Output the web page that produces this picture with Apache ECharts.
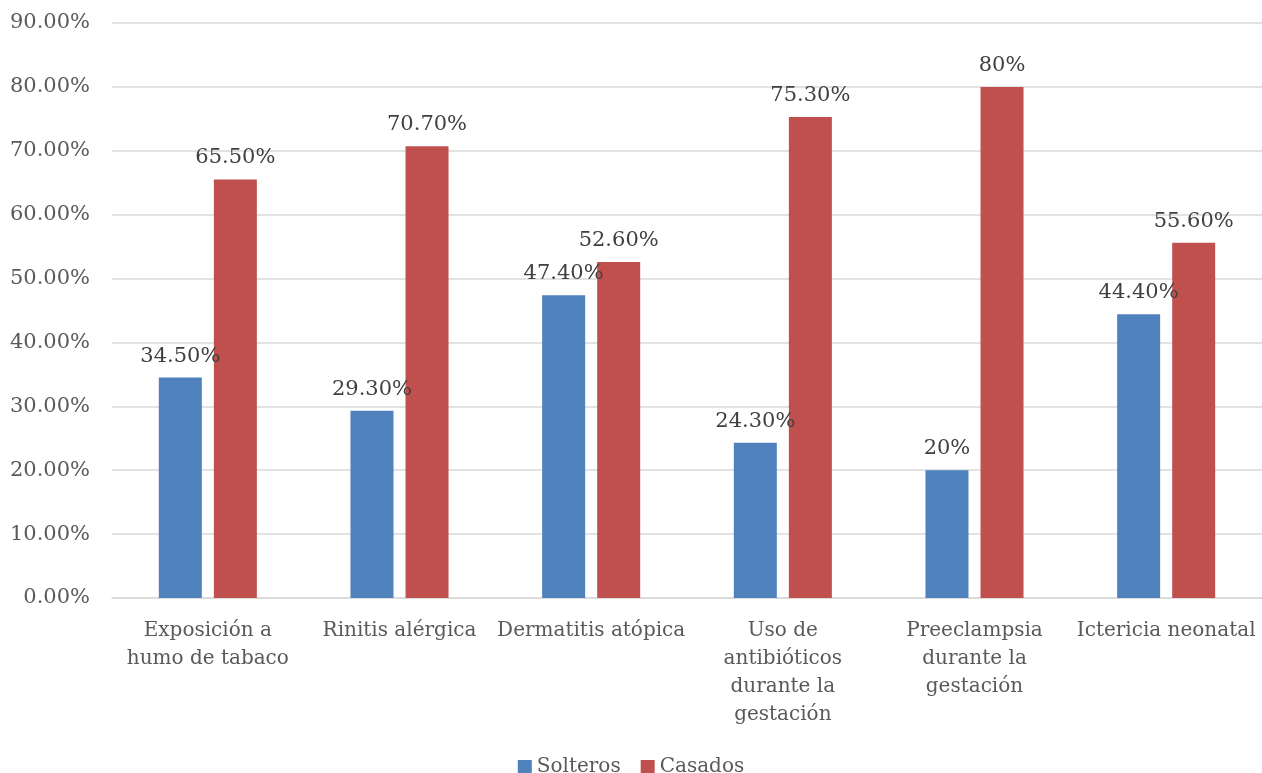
<!DOCTYPE html>
<html><head><meta charset="utf-8">
<script src="https://cdn.jsdelivr.net/npm/echarts@6/dist/echarts.min.js"></script>
<style>html,body{margin:0;padding:0;background:#fff}#c{width:1262px;height:773px}</style>
</head><body><div id="c"></div>
<script>
const categories = ["Exposición a\nhumo de tabaco", "Rinitis alérgica", "Dermatitis atópica", "Uso de\nantibióticos\ndurante la\ngestación", "Preeclampsia\ndurante la\ngestación", "Ictericia neonatal"];
const solteros = [34.5, 29.3, 47.4, 24.3, 20, 44.4];
const casados = [65.5, 70.7, 52.6, 75.3, 80, 55.6];
const solterosLabels = ["34.50%", "29.30%", "47.40%", "24.30%", "20%", "44.40%"];
const casadosLabels = ["65.50%", "70.70%", "52.60%", "75.30%", "80%", "55.60%"];
const FONT = "DejaVu Serif";
const FS = 21;
const chart = echarts.init(document.getElementById('c'));
function lbl(arr){ return {show:true, position:'top', distance:11, fontFamily:FONT, fontSize:FS, color:'#404040', formatter:p=>arr[p.dataIndex]}; }
chart.setOption({
  animation:false,
  textStyle:{fontFamily:FONT},
  grid:{left:112, right:0, top:23, bottom:175, containLabel:false},
  legend:{top:752, left:'center', itemWidth:14, itemHeight:14, itemGap:20, icon:'rect',
    textStyle:{fontFamily:FONT, fontSize:20, color:'#595959'}, data:['Solteros','Casados']},
  xAxis:{type:'category', data:categories,
    axisLine:{lineStyle:{color:'#d9d9d9', width:1.5}}, axisTick:{show:false},
    axisLabel:{fontFamily:FONT, fontSize:20, color:'#595959', margin:19, lineHeight:28, interval:0}},
  yAxis:{type:'value', min:0, max:90, interval:10,
    axisLabel:{fontFamily:FONT, fontSize:FS, color:'#595959', margin:22, formatter:v=>v.toFixed(2)+'%'},
    splitLine:{lineStyle:{color:'#d9d9d9', width:1.5}}, axisLine:{show:false}, axisTick:{show:false}},
  series:[
    {name:'Solteros', type:'bar', data:solteros, barWidth:43, barGap:'28%', itemStyle:{color:'#4f81bd'}, label:lbl(solterosLabels)},
    {name:'Casados', type:'bar', data:casados, barWidth:43, itemStyle:{color:'#c0504d'}, label:lbl(casadosLabels)}
  ]
});
</script></body></html>
